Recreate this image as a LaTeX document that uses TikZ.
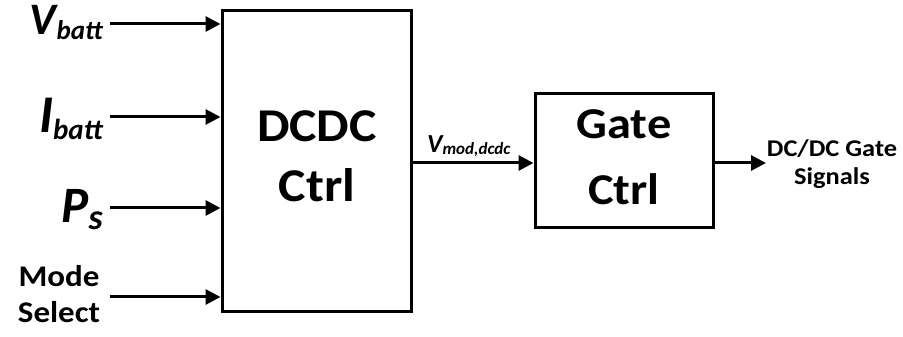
\documentclass[tikz,border=0pt]{standalone}
\usepackage{fontspec}
\setmainfont{Carlito}
% block and caption texts are set a little wider
\newfontfamily\widefont[FakeStretch=1.1]{Carlito}
\usetikzlibrary{arrows.meta}

\tikzset{
  blk/.style={draw, line width=3pt, inner sep=0pt},
  arr/.style={line width=3pt, -{Triangle[length=15pt,width=15pt]}},
  lbl/.style={inner sep=0pt, font=\bfseries\itshape},
  txt/.style 2 args={inner sep=0pt, align=center, anchor=base,
    font=\widefont\bfseries\fontsize{#1}{#2}\selectfont},
}
% variable with a lowered subscript: #1 size, #2 letter, #3 sub size, #4 drop, #5 subscript
\newcommand{\varsub}[5]{{\fontsize{#1}{#1}\selectfont #2}\raisebox{-#4}{\fontsize{#3}{#3}\selectfont #5}}

\begin{document}
\begin{tikzpicture}[x=1pt,y=1pt]
\useasboundingbox (0,0) rectangle (903,337);

% blocks
\node[blk, minimum width=189pt, minimum height=301pt] (dcdc) at (316.5,175.5) {};
\node[blk, minimum width=178pt, minimum height=134pt] (gate) at (624,176) {};
% multi-line texts are placed by the baseline of their last line
\node[txt={47pt}{60pt}] (dcdct) at (317,135) {DCDC\\Ctrl};
\node[txt={44pt}{66pt}] (gatet) at (624,132) {Gate\\Ctrl};

% input labels
\node[lbl, anchor=base east] (vb) at (103,302) {\varsub{45pt}{V}{27pt}{5pt}{batt}};
\node[lbl, anchor=base east] (ib) at (103,204) {\varsub{53pt}{I}{29pt}{7pt}{batt}};
\node[lbl, anchor=base east] (ps) at (103,114) {\varsub{51pt}{P}{36pt}{7pt}{s}};
\node[txt={30pt}{36pt}] (mode) at (59,14) {Mode\\Select};

% input arrows
\coordinate (av) at (110,313);
\coordinate (ai) at (110,220);
\coordinate (ap) at (110,129);
\coordinate (am) at (110,40);
\draw[arr] (av) -- (av -| dcdc.west);
\draw[arr] (ai) -- (ai -| dcdc.west);
\draw[arr] (ap) -- (ap -| dcdc.west);
\draw[arr] (am) -- (am -| dcdc.west);

% link between blocks
\coordinate (mid) at (dcdc.east |- 0,174);
\draw[arr] (mid) -- (mid -| gate.west);
\node[lbl, anchor=base west] (vmod) at (427,184) {\varsub{26pt}{V}{17pt}{2pt}{mod,dcdc}};

% output
\coordinate (out) at (gate.east |- 0,174);
\coordinate (outend) at (766,174);
\draw[arr] (out) -- (outend);
\node[txt={24pt}{28pt}] (sig) at (832,152) {DC/DC Gate\\Signals};
\end{tikzpicture}
\end{document}
